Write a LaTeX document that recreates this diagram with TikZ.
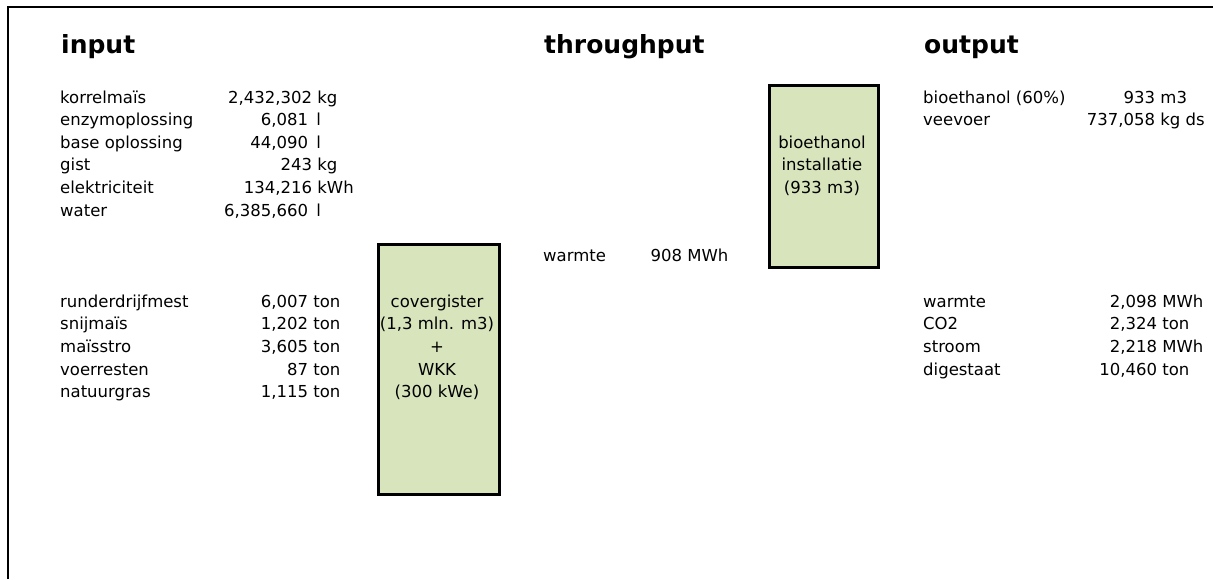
\documentclass[tikz,border=0pt]{standalone}
\usepackage{fontspec}
\setmainfont{DejaVu Sans}
\definecolor{boxfill}{RGB}{216,228,188}
\newcommand{\regf}{\fontsize{16.5pt}{20pt}\selectfont}
\newcommand{\headf}{\fontsize{25pt}{29pt}\selectfont\bfseries}
\newcommand{\qv}[2]{\llap{#1}\ #2}
\begin{document}
\begin{tikzpicture}[x=1pt,y=-1pt,
  lbl/.style={anchor=base west, inner sep=0pt, font=\regf},
  qty/.style={anchor=base west, inner sep=0pt, font=\regf},
  head/.style={anchor=base west, inner sep=0pt, font=\headf},
  unitbox/.style={draw=black, line width=3pt, fill=boxfill, inner sep=0pt, anchor=north west},
  boxline/.style={anchor=base, inner sep=0pt, font=\regf},
  frameline/.style={line width=2pt}]
\useasboundingbox (0,0) rectangle (1213,579);
% frame
\coordinate (fbl) at (8,579);
\coordinate (ftl) at (8,7);
\coordinate (ftr) at (1213,7);
\draw[frameline] (fbl) -- (ftl) -- (ftr);
% boxes
\node[unitbox, minimum width=121pt, minimum height=250pt] (cov) at (376.5,242.5) {};
\node[unitbox, minimum width=109pt, minimum height=182pt] (bio) at (767.5,83.5) {};
% headings
\node[head] (hin) at (61,53.5) {input};
\node[head] (hthr) at (544,53.5) {throughput};
\node[head] (hout) at (924,53.5) {output};
% input top group
\node[lbl] (l1) at (60,103) {korrelmaïs};
\node[lbl] (l2) at (60,125.6) {enzymoplossing};
\node[lbl] (l3) at (60,148.2) {base oplossing};
\node[lbl] (l4) at (60,170.8) {gist};
\node[lbl] (l5) at (60,193.4) {elektriciteit};
\node[lbl] (l6) at (60,216) {water};
\node[qty] (q1) at (312,103) {\qv{2,432,302}{kg}};
\node[qty] (q2) at (308,125.6) {\qv{6,081}{\hspace{3pt}l}};
\node[qty] (q3) at (308,148.2) {\qv{44,090}{\hspace{3pt}l}};
\node[qty] (q4) at (312,170.8) {\qv{243}{kg}};
\node[qty] (q5) at (312,193.4) {\qv{134,216}{kWh}};
\node[qty] (q6) at (308,216) {\qv{6,385,660}{\hspace{3pt}l}};
% input bottom group
\node[lbl] (m1) at (60,307) {runderdrijfmest};
\node[lbl] (m2) at (60,329.7) {snijmaïs};
\node[lbl] (m3) at (60,352.4) {maïsstro};
\node[lbl] (m4) at (60,375.1) {voerresten};
\node[lbl] (m5) at (60,397.8) {natuurgras};
\node[qty] (p1) at (308,307) {\qv{6,007}{ton}};
\node[qty] (p2) at (308,329.7) {\qv{1,202}{ton}};
\node[qty] (p3) at (308,352.4) {\qv{3,605}{ton}};
\node[qty] (p4) at (308,375.1) {\qv{87}{ton}};
\node[qty] (p5) at (308,397.8) {\qv{1,115}{ton}};
% covergister box text
\node[boxline] (c1) at (437,307) {covergister};
\node[boxline] (c2) at (437,329.7) {(1,3 mln. m3)};
\node[boxline] (c3) at (437,352.4) {+};
\node[boxline] (c4) at (437,375.1) {WKK};
\node[boxline] (c5) at (437,397.8) {(300 kWe)};
% bioethanol box text
\node[boxline] (b1) at (822,148.2) {bioethanol};
\node[boxline] (b2) at (822,170.8) {installatie};
\node[boxline] (b3) at (822,193.4) {(933 m3)};
% throughput
\node[lbl] (t1) at (543,261) {warmte};
\node[qty] (tq1) at (682,261) {\qv{908}{MWh}};
% output top
\node[lbl] (o1) at (923,103) {bioethanol (60\%)};
\node[lbl] (o2) at (923,125.6) {veevoer};
\node[qty] (oq1) at (1155,103) {\qv{933}{m3}};
\node[qty] (oq2) at (1155,125.6) {\qv{737,058}{kg ds}};
% output bottom
\node[lbl] (r1) at (923,307) {warmte};
\node[lbl] (r2) at (923,329.7) {CO2};
\node[lbl] (r3) at (923,352.4) {stroom};
\node[lbl] (r4) at (923,375.1) {digestaat};
\node[qty] (rq1) at (1157,307) {\qv{2,098}{MWh}};
\node[qty] (rq2) at (1157,329.7) {\qv{2,324}{ton}};
\node[qty] (rq3) at (1157,352.4) {\qv{2,218}{MWh}};
\node[qty] (rq4) at (1157,375.1) {\qv{10,460}{ton}};
\end{tikzpicture}
\end{document}
